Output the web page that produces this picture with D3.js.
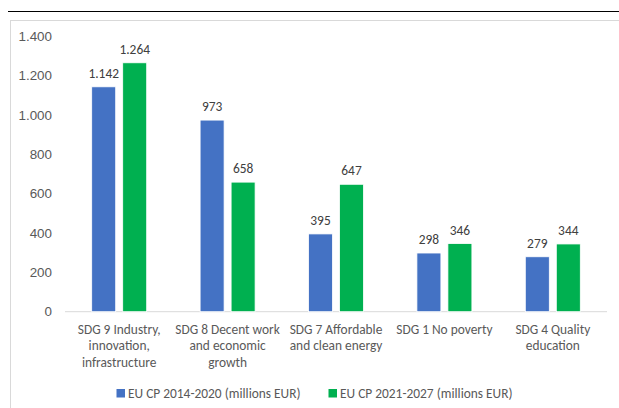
<!DOCTYPE html>
<html><head><meta charset="utf-8">
<script src="https://cdn.jsdelivr.net/npm/d3@7"></script>
<style>
html,body{margin:0;padding:0;background:#fff;}
svg{display:block;font-family:Carlito,Calibri,Lato,"Noto Sans",sans-serif;}
</style></head>
<body>
<svg id="chart" width="619" height="408"></svg>
<script>
const categories = [
  ["SDG 9 Industry,", "innovation,", "infrastructure"],
  ["SDG 8 Decent work", "and economic", "growth"],
  ["SDG 7 Affordable", "and clean energy"],
  ["SDG 1 No poverty"],
  ["SDG 4 Quality", "education"]
];
const series1 = [1142, 973, 395, 298, 279];
const series2 = [1264, 658, 647, 346, 344];
const seriesNames = ["EU CP 2014-2020 (millions EUR)", "EU CP 2021-2027 (millions EUR)"];
const colors = ["#4472C4", "#00B050"];
const yTicks = [0, 200, 400, 600, 800, 1000, 1200, 1400];

const svg = d3.select("#chart");
const fmt = v => d3.format(",")(v).replace(/,/g, ".");
const fs = 13.4;

// top rule and chart frame
svg.append("line").attr("x1", 8).attr("x2", 619).attr("y1", 11.5).attr("y2", 11.5)
  .attr("stroke", "#000").attr("stroke-width", 1);
svg.append("rect").attr("x", 10.5).attr("y", 20.5).attr("width", 700).attr("height", 500)
  .attr("fill", "none").attr("stroke", "#d9d9d9");

const x0 = d3.scaleBand().domain(d3.range(categories.length)).range([65, 607]).paddingInner(0).paddingOuter(0);
const y = d3.scaleLinear().domain([0, 1400]).range([311.7, 36]);
const bw = 24, gap = 7;

// y axis labels
const yAxis = d3.axisLeft(y).tickValues(yTicks).tickSize(0).tickPadding(0).tickFormat(fmt);
const gy = svg.append("g").attr("transform", "translate(52,0)").call(yAxis);
gy.select(".domain").remove();
gy.selectAll("text").attr("fill", "#595959").attr("font-size", fs).attr("font-family", null);

// baseline
svg.append("line").attr("x1", 65).attr("x2", 607).attr("y1", 311.7).attr("y2", 311.7)
  .attr("stroke", "#d9d9d9").attr("stroke-width", 1);

const allSeries = [series1, series2];
allSeries.forEach((s, si) => {
  const g = svg.append("g");
  s.forEach((v, i) => {
    const cx = x0(i) + x0.bandwidth() / 2;
    const bx = si === 0 ? cx - gap / 2 - bw : cx + gap / 2;
    g.append("rect").attr("x", bx).attr("y", y(v)).attr("width", bw).attr("height", y(0) - y(v))
      .attr("fill", colors[si]).attr("stroke", "#fff").attr("stroke-width", 0.8);
    g.append("text").attr("x", bx + bw / 2).attr("y", y(v) - 9)
      .attr("text-anchor", "middle").attr("fill", "#404040").attr("font-size", fs)
      .text(fmt(v));
  });
});

// category labels
categories.forEach((lines, i) => {
  const cx = x0(i) + x0.bandwidth() / 2;
  const t = svg.append("text").attr("text-anchor", "middle").attr("fill", "#595959").attr("font-size", fs);
  lines.forEach((ln, li) => {
    t.append("tspan").attr("x", cx).attr("y", 333.5 + li * 16.5).text(ln);
  });
});

// legend
const legendX = [116.5, 328.5];
seriesNames.forEach((n, i) => {
  svg.append("rect").attr("x", legendX[i]).attr("y", 389).attr("width", 8.5).attr("height", 8.5).attr("fill", colors[i]);
  svg.append("text").attr("x", legendX[i] + 11.5).attr("y", 397.5).attr("fill", "#595959").attr("font-size", fs).text(n);
});
</script>
</body></html>
